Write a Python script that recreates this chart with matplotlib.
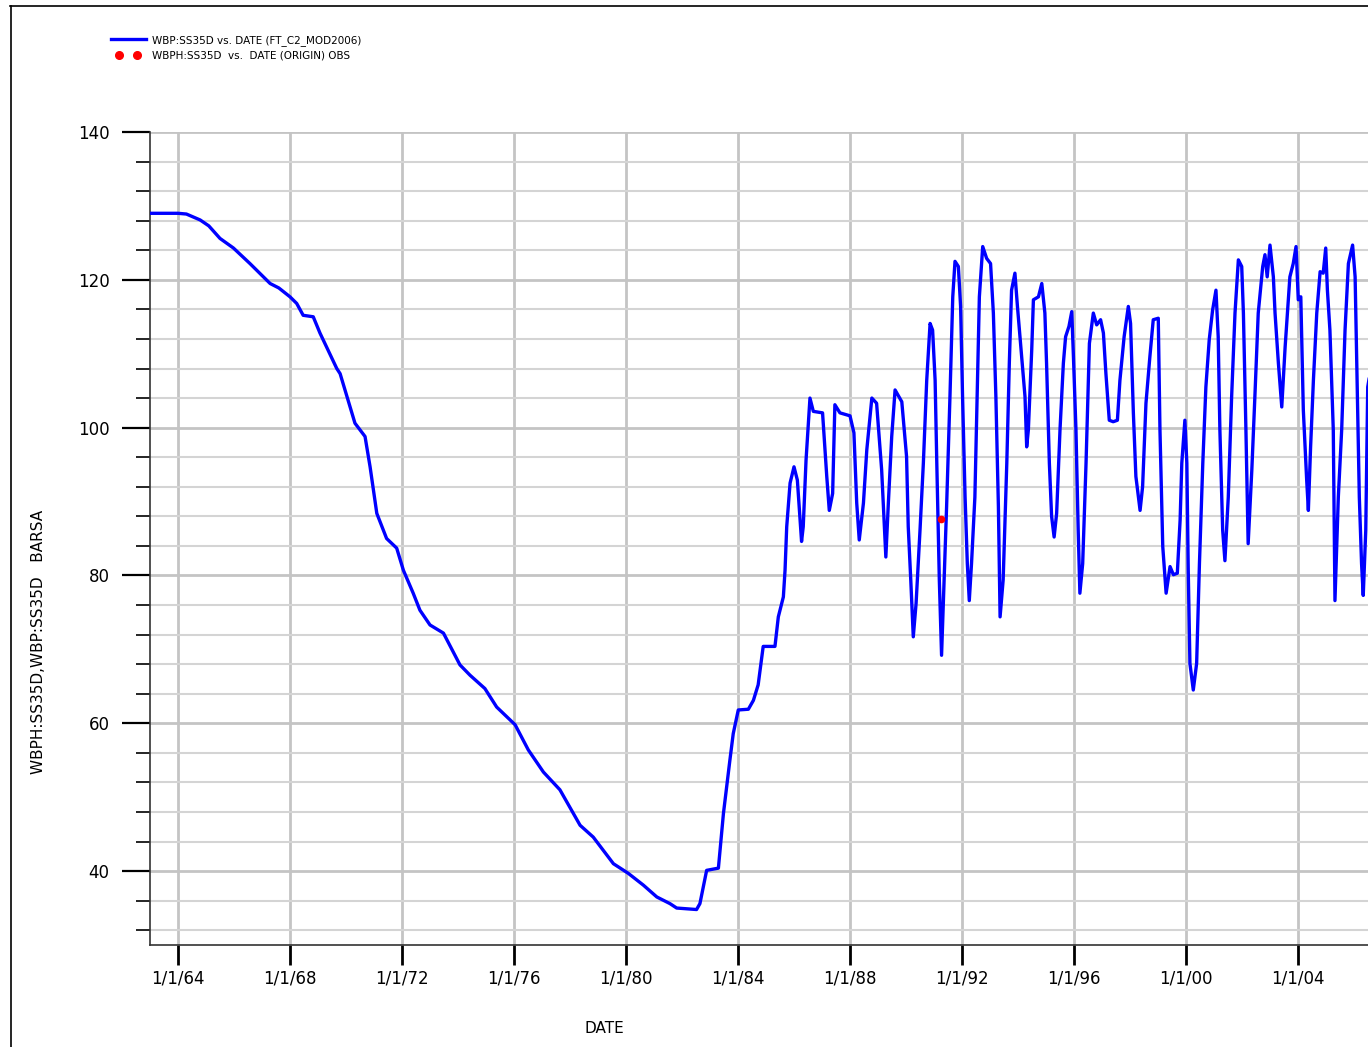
import matplotlib.pyplot as plt
from matplotlib.ticker import MultipleLocator
from matplotlib.lines import Line2D
from matplotlib.legend_handler import HandlerLine2D

# simulated pressure WBP:SS35D (decimal year, BARSA)
sim_year = [
    1963.0, 1964.0, 1964.3, 1964.79, 1965.1, 1965.5, 1965.98, 1966.57, 1967.29, 1967.6,
    1968.0, 1968.24, 1968.47, 1968.83, 1969.07, 1969.67, 1969.79, 1970.32, 1970.68, 1970.86,
    1971.1, 1971.45, 1971.81, 1972.05, 1972.4, 1972.64, 1973.0, 1973.48, 1974.07, 1974.43,
    1974.96, 1975.38, 1976.04, 1976.51, 1977.05, 1977.64, 1978.36, 1978.83, 1979.55, 1980.08,
    1980.62, 1981.1, 1981.57, 1981.81, 1982.52, 1982.64, 1982.88, 1983.3, 1983.48, 1983.71,
    1983.83, 1984.01, 1984.37, 1984.55, 1984.72, 1984.9, 1985.32, 1985.44, 1985.62, 1985.68,
    1985.74, 1985.86, 1986.0, 1986.12, 1986.27, 1986.33, 1986.43, 1986.57, 1986.69, 1987.02,
    1987.17, 1987.26, 1987.38, 1987.46, 1987.64, 1988.0, 1988.14, 1988.24, 1988.33, 1988.48,
    1988.6, 1988.78, 1988.95, 1989.13, 1989.28, 1989.37, 1989.49, 1989.61, 1989.85, 1990.02,
    1990.08, 1990.17, 1990.26, 1990.36, 1990.5, 1990.62, 1990.74, 1990.86, 1990.95, 1991.04,
    1991.1, 1991.19, 1991.27, 1991.36, 1991.45, 1991.57, 1991.67, 1991.75, 1991.87, 1991.95,
    1992.02, 1992.11, 1992.19, 1992.26, 1992.34, 1992.46, 1992.54, 1992.62, 1992.74, 1992.88,
    1993.02, 1993.12, 1993.21, 1993.3, 1993.36, 1993.47, 1993.6, 1993.69, 1993.77, 1993.89,
    1993.98, 1994.13, 1994.25, 1994.31, 1994.37, 1994.49, 1994.55, 1994.73, 1994.85, 1994.96,
    1995.02, 1995.12, 1995.2, 1995.29, 1995.38, 1995.5, 1995.62, 1995.7, 1995.82, 1995.92,
    1995.98, 1996.07, 1996.15, 1996.21, 1996.31, 1996.43, 1996.55, 1996.69, 1996.81, 1996.95,
    1997.05, 1997.14, 1997.26, 1997.4, 1997.55, 1997.64, 1997.79, 1997.94, 1998.02, 1998.12,
    1998.21, 1998.36, 1998.45, 1998.57, 1998.71, 1998.83, 1999.01, 1999.07, 1999.17, 1999.29,
    1999.43, 1999.55, 1999.69, 1999.79, 1999.85, 1999.96, 2000.03, 2000.08, 2000.14, 2000.26,
    2000.38, 2000.48, 2000.6, 2000.71, 2000.83, 2000.95, 2001.07, 2001.15, 2001.21, 2001.31,
    2001.39, 2001.51, 2001.63, 2001.75, 2001.87, 2001.99, 2002.05, 2002.14, 2002.22, 2002.35,
    2002.46, 2002.58, 2002.74, 2002.82, 2002.9, 2003.0, 2003.12, 2003.18, 2003.3, 2003.42,
    2003.54, 2003.71, 2003.83, 2003.93, 2004.01, 2004.1, 2004.19, 2004.31, 2004.37, 2004.45,
    2004.55, 2004.67, 2004.79, 2004.9, 2004.99, 2005.05, 2005.14, 2005.26, 2005.32, 2005.44,
    2005.56, 2005.68, 2005.8, 2005.95, 2006.04, 2006.1, 2006.19, 2006.27, 2006.33, 2006.42,
    2006.49, 2006.6,
]
sim_bp = [
    129.0, 129.0, 128.9, 128.1, 127.3, 125.6, 124.3, 122.2, 119.5, 118.9,
    117.7, 116.8, 115.2, 115.0, 112.8, 108.0, 107.3, 100.6, 98.8, 94.7,
    88.4, 85.0, 83.7, 80.7, 77.6, 75.3, 73.3, 72.2, 67.9, 66.5,
    64.7, 62.2, 59.8, 56.4, 53.4, 51.0, 46.2, 44.6, 41.0, 39.7,
    38.1, 36.5, 35.6, 35.0, 34.8, 35.6, 40.1, 40.4, 47.8, 55.0,
    58.6, 61.8, 61.9, 63.1, 65.2, 70.4, 70.4, 74.4, 77.1, 80.7,
    86.6, 92.5, 94.7, 92.9, 84.6, 86.6, 95.6, 104.0, 102.2, 102.0,
    93.4, 88.8, 91.1, 103.1, 102.0, 101.6, 99.3, 89.8, 84.8, 89.8,
    97.0, 104.0, 103.3, 94.3, 82.5, 89.8, 98.8, 105.1, 103.5, 96.1,
    86.6, 79.4, 71.7, 76.2, 86.1, 95.2, 106.4, 114.1, 113.2, 106.4,
    95.2, 79.4, 69.2, 79.4, 89.3, 104.2, 117.7, 122.5, 121.8, 116.4,
    104.2, 90.6, 81.6, 76.6, 81.6, 90.6, 104.2, 117.7, 124.5, 122.9,
    122.2, 115.5, 104.2, 89.3, 74.4, 79.4, 95.2, 108.7, 118.6, 120.9,
    116.4, 109.6, 104.2, 97.4, 99.7, 110.5, 117.3, 117.7, 119.5, 115.5,
    108.7, 95.2, 88.0, 85.2, 88.4, 99.7, 108.7, 112.3, 113.7, 115.7,
    109.6, 99.7, 86.1, 77.6, 81.6, 95.2, 111.4, 115.5, 113.9, 114.6,
    112.8, 107.3, 101.0, 100.8, 101.0, 106.4, 112.3, 116.4, 114.1, 102.0,
    93.4, 88.8, 92.0, 103.3, 109.6, 114.6, 114.8, 99.7, 83.9, 77.6,
    81.2, 80.1, 80.3, 87.5, 95.2, 101.0, 95.2, 80.7, 68.1, 64.5,
    68.1, 81.6, 95.2, 105.5, 111.9, 115.9, 118.6, 112.3, 99.7, 86.1,
    82.0, 90.6, 104.2, 115.5, 122.7, 121.8, 115.5, 99.7, 84.3, 94.2,
    104.2, 115.5, 121.8, 123.4, 120.4, 124.7, 120.4, 115.5, 108.7, 102.8,
    110.9, 120.4, 122.2, 124.5, 117.3, 117.7, 102.4, 92.9, 88.8, 97.4,
    106.4, 115.5, 121.1, 120.9, 124.3, 118.6, 113.2, 99.7, 76.6, 90.6,
    99.7, 113.2, 122.2, 124.7, 120.4, 108.7, 90.6, 81.6, 77.3, 86.1,
    105.5, 108.0,
]

# observed WBPH:SS35D
obs_year = [1991.25]
obs_bp = [87.6]

tick_years = [1964, 1968, 1972, 1976, 1980, 1984, 1988, 1992, 1996, 2000, 2004]
tick_labels = ["1/1/64", "1/1/68", "1/1/72", "1/1/76", "1/1/80", "1/1/84",
               "1/1/88", "1/1/92", "1/1/96", "1/1/00", "1/1/04"]

sim_label = "WBP:SS35D vs. DATE (FT_C2_MOD2006)"
obs_label = "WBPH:SS35D  vs.  DATE (ORIGIN) OBS"

fig = plt.figure(figsize=(13.68, 10.47), dpi=100)
ax = fig.add_axes([150 / 1368, 1 - 945 / 1047, 1218 / 1368, 813 / 1047])

ax.plot(sim_year, sim_bp, color="#0000ff", lw=2.4, zorder=3)
ax.plot(obs_year, obs_bp, "o", color="red", ms=4.5, zorder=4)

ax.set_xlim(1963.0, 2006.5)
ax.set_ylim(30, 140)

ax.set_xticks(tick_years)
ax.set_xticklabels(tick_labels)
ax.yaxis.set_major_locator(MultipleLocator(20))
ax.yaxis.set_minor_locator(MultipleLocator(4))

ax.grid(True, axis="x", which="major", color="#c4c4c4", lw=2.0)
ax.grid(True, axis="y", which="major", color="#c4c4c4", lw=2.0)
ax.grid(True, axis="y", which="minor", color="#d4d4d4", lw=1.5)
ax.set_axisbelow(True)

ax.spines["top"].set_visible(False)
ax.spines["right"].set_visible(False)
ax.spines["left"].set_color("#333333")
ax.spines["bottom"].set_color("#333333")
ax.spines["left"].set_linewidth(1.2)
ax.spines["bottom"].set_linewidth(1.2)

ax.tick_params(axis="x", which="major", direction="out", length=14.5, width=2.0,
               pad=3, labelsize=12)
ax.tick_params(axis="y", which="major", direction="out", length=20, width=1.6,
               pad=9, labelsize=12)
ax.tick_params(axis="y", which="minor", direction="out", length=10, width=1.2)

ax.set_xlabel("DATE", fontsize=11)
ax.xaxis.set_label_coords((604 - 150) / 1218, -(1021 - 945) / 813)
ax.set_ylabel("WBPH:SS35D,WBP:SS35D   BARSA", fontsize=11)
ax.yaxis.set_label_coords(-(150 - 46) / 1218, (945 - 642) / 813)

sim_handle = Line2D([], [], color="#0000ff", lw=2.4)
obs_handle = Line2D([], [], color="red", marker="o", ls="none", ms=5.5)
fig.legend([sim_handle, obs_handle], [sim_label, obs_label], loc="upper left",
           bbox_to_anchor=(108 / 1368, 1 - 35 / 1047), frameon=False,
           fontsize=7.5, handlelength=3.9, handletextpad=0.3, numpoints=2,
           labelspacing=0.45, borderpad=0, borderaxespad=0,
           handler_map={obs_handle: HandlerLine2D(marker_pad=1.1)})

# outer frame of the plot window
fig.add_artist(Line2D([10 / 1368, 1.0], [1 - 5.5 / 1047, 1 - 5.5 / 1047],
                      transform=fig.transFigure, color="black", lw=1.2))
fig.add_artist(Line2D([10.5 / 1368, 10.5 / 1368], [0.0, 1 - 5.5 / 1047],
                      transform=fig.transFigure, color="black", lw=1.2))

fig.savefig("out.png", dpi=100)
